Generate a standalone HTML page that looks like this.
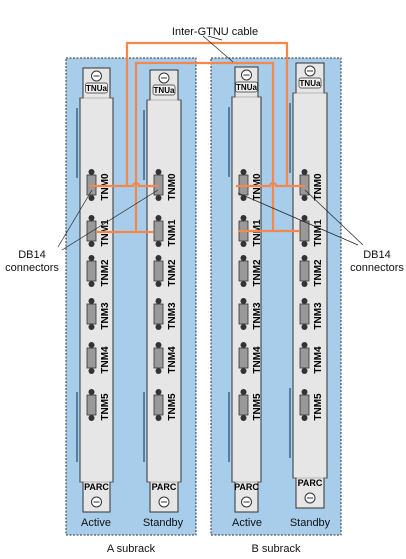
<!DOCTYPE html>
<html><head><meta charset="utf-8"><style>
body{margin:0;background:#fff}
svg{display:block;font-family:"Liberation Sans",Arial,sans-serif}
</style></head><body>
<svg id="s" width="406" height="559" viewBox="0 0 406 559">
<rect x="66" y="58" width="130" height="477" fill="#a7cdea" stroke="#333" stroke-dasharray="2,1.5"/>
<rect x="211" y="58" width="130" height="477" fill="#a7cdea" stroke="#333" stroke-dasharray="2,1.5"/>
<g id="boards"></g>
<g fill="none" stroke="#f4874b" stroke-width="2.2">
<path d="M127,186 V43 H287 V186"/>
<path d="M136,232 V63 H273 V231"/>
<path d="M90,186 H133 a3,3 0 0 1 6,0 H158"/>
<path d="M96,232 H153"/>
<path d="M236,186 H270 a3,3 0 0 1 6,0 H305"/>
<path d="M238,231 H300"/>
</g>
<g stroke="#222" stroke-width="0.7" fill="none">
<path d="M58,247 L92,190 M62,250 L158,190"/>
<path d="M363,245 L305,190 M358,245 L238,193"/>
<path d="M203,36 L233,62 M208,36 L222,40"/>
</g>
<g font-size="11" fill="#111">
<text x="215" y="35" text-anchor="middle">Inter-GTNU cable</text>
<text x="32" y="258" text-anchor="middle"><tspan x="32">DB14</tspan><tspan x="32" dy="13">connectors</tspan></text>
<text x="377" y="258" text-anchor="middle"><tspan x="377">DB14</tspan><tspan x="377" dy="13">connectors</tspan></text>
<text x="96" y="526" text-anchor="middle">Active</text>
<text x="163" y="526" text-anchor="middle">Standby</text>
<text x="247" y="526" text-anchor="middle">Active</text>
<text x="310" y="526" text-anchor="middle">Standby</text>
<text x="131" y="552" text-anchor="middle">A subrack</text>
<text x="276" y="552" text-anchor="middle">B subrack</text>
</g>
</svg>
<script>
const boardNames=['a-active','a-standby','b-active','b-standby'];
const bx=[80,147,232,293], bw=[33,34,29,34], btop=[68,70,67,63], bbot=[512,512,512,508];
const ports=['TNM0','TNM1','TNM2','TNM3','TNM4','TNM5'];
const py=[185,231,271,314,358,405];
const NS='http://www.w3.org/2000/svg';
const g=document.getElementById('boards');
function mk(t,a,p){const e=document.createElementNS(NS,t);for(const k in a)e.setAttribute(k,a[k]);(p||g).appendChild(e);return e;}
for(let i=0;i<4;i++){
 const x=bx[i],w=bw[i],t=btop[i],b=bbot[i];
 const grp=mk('g',{});
 
 
 mk('path',{d:`M${x+3},${t} H${x+w-3} V${t+30} H${x+w} V${b-30} H${x+w-3} V${b} H${x+3} V${b-30} H${x} V${t+30} H${x+3} Z`,fill:'#e6e6e6',stroke:'#333','stroke-width':'1'},grp);
 mk('line',{x1:x,y1:t+30,x2:x+w,y2:t+30,stroke:'#888','stroke-width':'0.6'},grp);
 mk('line',{x1:x,y1:b-30,x2:x+w,y2:b-30,stroke:'#888','stroke-width':'0.6'},grp);
 mk('rect',{x:x-4,y:t+40,width:2,height:70,fill:'#5a7ea0'},grp);
 mk('rect',{x:x-4,y:b-120,width:2,height:70,fill:'#5a7ea0'},grp);
 const cx=x+w/2;
 mk('circle',{cx:cx,cy:t+8,r:5,fill:'#fff',stroke:'#333'},grp);
 mk('line',{x1:cx-3,y1:t+8,x2:cx+3,y2:t+8,stroke:'#333'},grp);
 mk('rect',{x:cx-11,y:t+15,width:22,height:10,rx:2,fill:'#eee',stroke:'#333','stroke-width':'0.7'},grp);
 const tl=mk('text',{x:cx,y:t+23,'text-anchor':'middle','font-size':'8','font-weight':'bold'},grp);tl.textContent='TNUa';
 const pl=mk('text',{x:cx,y:b-22,'text-anchor':'middle','font-size':'9','font-weight':'bold'},grp);pl.textContent='PARC';
 mk('circle',{cx:cx,cy:b-10,r:5,fill:'#fff',stroke:'#333'},grp);
 mk('line',{x1:cx-3,y1:b-10,x2:cx+3,y2:b-10,stroke:'#333'},grp);
 for(let j=0;j<ports.length;j++){
  const px=x+7,y=py[j];
  const c=mk('g',{},grp);
  
  
  mk('rect',{x:px,y:y-10,width:9,height:20,fill:'#999',stroke:'#333','stroke-width':'0.8'},c);
  mk('circle',{cx:px+4.5,cy:y-13,r:3,fill:'#333'},c);
  mk('circle',{cx:px+4.5,cy:y+13,r:3,fill:'#333'},c);
  const tx=mk('text',{x:0,y:0,'font-size':'10','font-weight':'bold',transform:`translate(${px+21},${y+2}) rotate(-90)`,'text-anchor':'middle'},c);
  tx.textContent=ports[j];
 }
}
</script>
</body></html>
